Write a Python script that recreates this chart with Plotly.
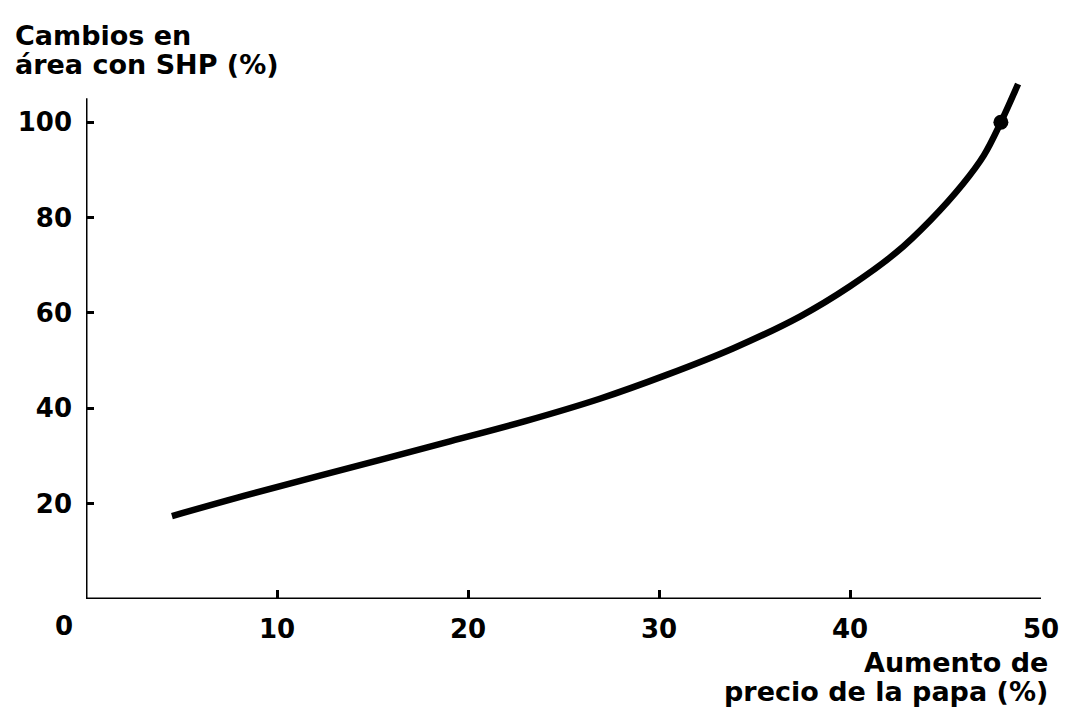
import plotly.graph_objects as go

# Data
precio = [4.5, 8.6, 13.8, 19.1, 23.0, 26.9, 30.4, 33.9, 37.4, 40.0, 42.4, 44.2, 45.9, 47.0, 47.9, 48.8]
area = [17.4, 22.0, 27.5, 33.1, 37.3, 42.0, 47.0, 52.6, 59.3, 65.6, 72.6, 79.4, 87.0, 93.0, 100, 108]
punto_x = [47.9]
punto_y = [100]
x_ticks = [10, 20, 30, 40, 50]
y_ticks = [20, 40, 60, 80, 100]
y_title = ["Cambios en", "área con SHP (%)"]
x_title = ["Aumento de", "precio de la papa (%)"]

FONT = "DejaVu Sans"
BOLD = dict(family=FONT, size=26, color="black", weight="bold")
TITLE = dict(family=FONT, size=27, color="black", weight="bold")

# page body has an 8px margin; compensate so the plot lands where the reference has it
W, H = 1063, 704
L, T = 78, 57
PW, PH = 955, 534

fig = go.Figure()
fig.add_trace(go.Scatter(x=precio, y=area, mode="lines",
                         line=dict(color="black", width=6.5, shape="spline", smoothing=1.0),
                         hoverinfo="skip", showlegend=False))
fig.add_trace(go.Scatter(x=punto_x, y=punto_y, mode="markers", marker=dict(color="black", size=15),
                         cliponaxis=False, showlegend=False))

# axis lines
fig.add_shape(type="line", x0=0, x1=50, y0=0, y1=0, xref="x", yref="y", line=dict(color="black", width=3))
fig.add_shape(type="line", x0=0, x1=0, y0=0, y1=105, xref="x", yref="y", line=dict(color="black", width=3))

annotations = [
    dict(text=y_title[0], xref="paper", yref="paper", x=(5 - L) / PW, y=1 + (T - 10) / PH,
         xanchor="left", yanchor="top", align="left", showarrow=False, font=TITLE),
    dict(text=y_title[1], xref="paper", yref="paper", x=(5 - L) / PW, y=1 + (T - 39) / PH,
         xanchor="left", yanchor="top", align="left", showarrow=False, font=TITLE),
    dict(text=x_title[0], xref="paper", yref="paper", x=(1050 - 8 - L) / PW, y=-(645 - 8 - T - PH) / PH,
         xanchor="right", yanchor="top", align="right", showarrow=False, font=TITLE),
    dict(text=x_title[1], xref="paper", yref="paper", x=(1050 - 8 - L) / PW, y=-(674 - 8 - T - PH) / PH,
         xanchor="right", yanchor="top", align="right", showarrow=False, font=TITLE),
    dict(text="0", xref="x", yref="y", x=0, y=0, xanchor="center", yanchor="top", showarrow=False,
         xshift=-22, yshift=-10, font=BOLD),
]

fig.update_layout(
    width=W, height=H,
    margin=dict(l=L, r=W - L - PW, t=T, b=H - T - PH, autoexpand=False),
    paper_bgcolor="white", plot_bgcolor="white",
    font=dict(family=FONT, size=26, color="black"),
    xaxis=dict(range=[0, 50], tickvals=x_ticks, ticks="inside", ticklen=9, tickwidth=2.5, tickcolor="black",
               showgrid=False, zeroline=False, showline=False, ticklabelstandoff=12, tickfont=BOLD),
    yaxis=dict(range=[0, 112], tickvals=y_ticks, ticks="inside", ticklen=8, tickwidth=2.5, tickcolor="black",
               showgrid=False, zeroline=False, showline=False, ticklabelstandoff=13, tickfont=BOLD),
    annotations=annotations,
)

fig.write_html("out.html")
